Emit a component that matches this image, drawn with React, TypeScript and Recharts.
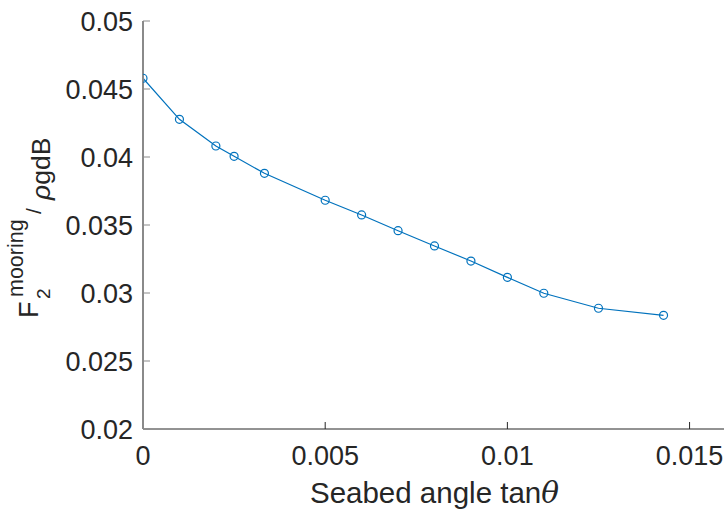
import React from "react";
import { LineChart, Line, XAxis, YAxis } from "recharts";

const slopes = [0, 0.001, 0.002, 0.0025, 0.003333, 0.005, 0.006, 0.007, 0.008, 0.009, 0.01, 0.011, 0.0125, 0.014286];
const force = [0.04579, 0.04277, 0.04081, 0.04005, 0.0388, 0.03682, 0.03574, 0.03458, 0.03346, 0.03235, 0.03115, 0.02998, 0.02888, 0.02836];
const xTicks = [0, 0.005, 0.01, 0.015];
const yTicks = [0.02, 0.025, 0.03, 0.035, 0.04, 0.045, 0.05];

const data = slopes.map((s, i) => ({ s, f: force[i] }));

const FONT = "'Liberation Sans', Arial, Helvetica, sans-serif";
const INK = "#262626";
const BLUE = "#0072BD";

// one rotated run of text: bx = baseline x, sy = where the run starts (reads upward)
function Run({ bx, sy, size, children }: any) {
  return (
    <text
      x={bx}
      y={sy}
      transform={`rotate(-90, ${bx}, ${sy})`}
      fill={INK}
      fontFamily={FONT}
      fontSize={size}
    >
      {children}
    </text>
  );
}

function YLabel() {
  return (
    <g>
      <Run bx={38} sy={318} size={27}>F</Run>
      <Run bx={50} sy={299} size={19}>2</Run>
      <Run bx={23} sy={297} size={21.5}>mooring</Run>
      <Run bx={41} sy={214} size={21}>/</Run>
      <Run bx={50} sy={200} size={26.5}>
        <tspan fontStyle="italic">ρ</tspan>gdB
      </Run>
    </g>
  );
}

function XLabel() {
  return (
    <text x={434.5} y={503} textAnchor="middle" fill={INK} fontFamily={FONT} fontSize={29.5}>
      Seabed angle tan<tspan fontStyle="italic" fontFamily="'DejaVu Serif', serif">θ</tspan>
    </text>
  );
}

export default function App() {
  return (
    <div style={{ position: "absolute", left: 0, top: 0, width: 724, height: 509, overflow: "hidden", background: "#fff" }}>
      <LineChart width={726} height={509} data={data} margin={{ top: 21, right: 0, bottom: 0, left: 0 }}>
        <XAxis
          dataKey="s"
          type="number"
          domain={[0, 0.016]}
          ticks={xTicks}
          allowDataOverflow
          axisLine={{ stroke: INK, strokeWidth: 1 }}
          tickLine={{ stroke: INK }}
          tickSize={-7}
          tickMargin={24}
          tick={{ fill: INK, fontSize: 27, fontFamily: FONT }}
          height={80}
          label={<XLabel />}
        />
        <YAxis
          type="number"
          domain={[0.02, 0.05]}
          ticks={yTicks}
          allowDataOverflow
          width={143}
          axisLine={{ stroke: "#8a8a8a", strokeWidth: 2 }}
          tickLine={{ stroke: "#8a8a8a" }}
          tickSize={-7}
          tickMargin={17}
          tick={{ fill: INK, fontSize: 27, fontFamily: FONT }}
          label={<YLabel />}
        />
        <Line
          type="linear"
          dataKey="f"
          stroke={BLUE}
          strokeWidth={1.2}
          dot={{ r: 4, fill: "none", stroke: BLUE, strokeWidth: 1.2 }}
          isAnimationActive={false}
        />
      </LineChart>
    </div>
  );
}
